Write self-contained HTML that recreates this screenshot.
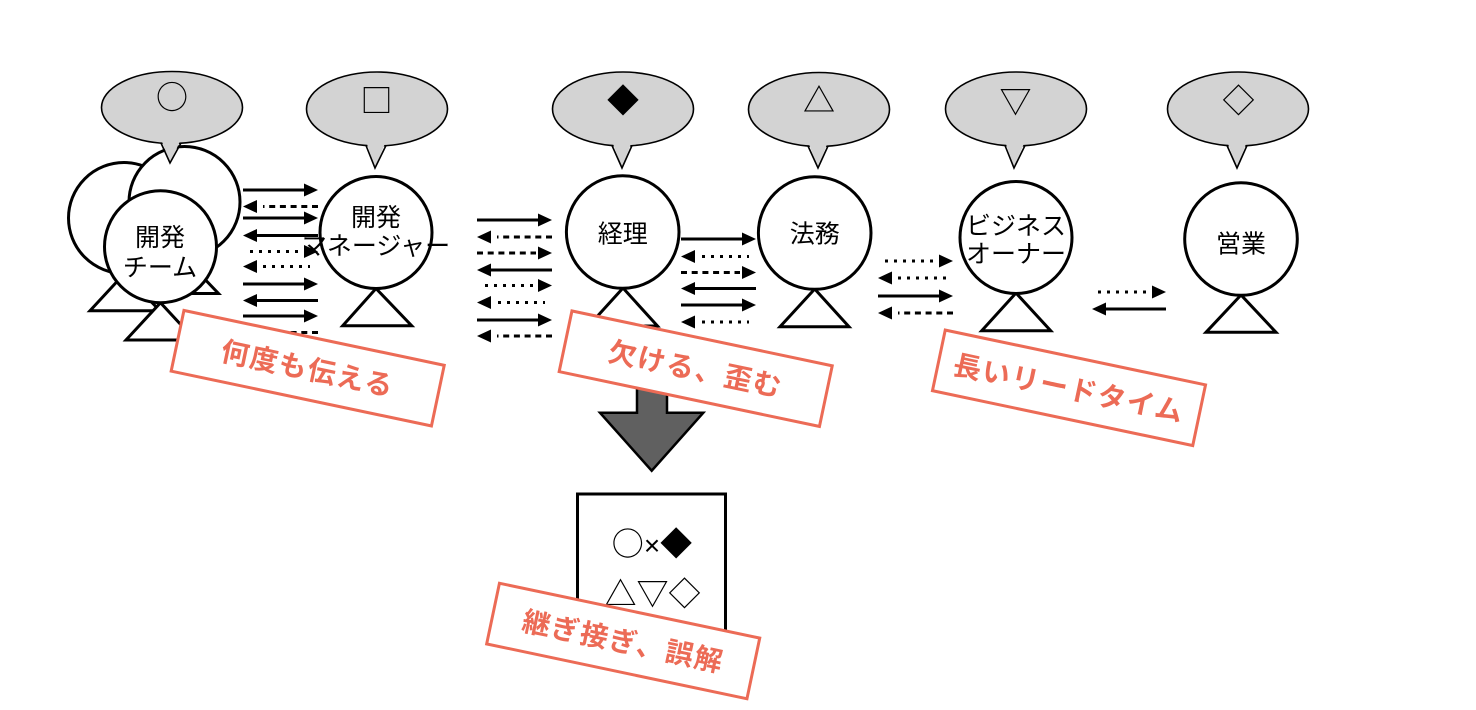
<!DOCTYPE html>
<html><head><meta charset="utf-8">
<style>
html,body{margin:0;padding:0;background:#fff;}
svg{display:block;}
.jp{font-family:"Liberation Sans","Noto Sans CJK JP",sans-serif;}
.sym{font-family:"Noto Sans CJK JP","Liberation Sans",sans-serif;}
</style></head>
<body>
<svg width="1476" height="710" viewBox="0 0 1476 710" xmlns="http://www.w3.org/2000/svg">
<rect width="1476" height="710" fill="#fff"/>

<!-- ARROWS -->
<g stroke="#000" stroke-width="3" fill="none">
  <!-- group 1 x 243-318 -->
  <line x1="243" y1="190" x2="306" y2="190"/>
  <line x1="318" y1="206.5" x2="263" y2="206.5" stroke-dasharray="6 4.7"/>
  <line x1="243" y1="218" x2="306" y2="218"/>
  <line x1="255" y1="235.5" x2="318" y2="235.5"/>
  <line x1="250" y1="251.5" x2="304" y2="251.5" stroke-dasharray="3 6"/>
  <line x1="263" y1="266.5" x2="310" y2="266.5" stroke-dasharray="3 6"/>
  <line x1="243" y1="284" x2="306" y2="284"/>
  <line x1="255" y1="300.5" x2="318" y2="300.5"/>
  <line x1="243" y1="316" x2="306" y2="316"/>
  <line x1="318" y1="332.5" x2="263" y2="332.5" stroke-dasharray="6 4.7"/>
  <!-- group 2 x 477-552 -->
  <line x1="477" y1="220" x2="540" y2="220"/>
  <line x1="552" y1="237" x2="497" y2="237" stroke-dasharray="6 4.7"/>
  <line x1="477" y1="253" x2="536" y2="253" stroke-dasharray="6 4.7"/>
  <line x1="489" y1="270" x2="552" y2="270"/>
  <line x1="485" y1="285.5" x2="536" y2="285.5" stroke-dasharray="3 6"/>
  <line x1="498" y1="302.5" x2="545" y2="302.5" stroke-dasharray="3 6"/>
  <line x1="477" y1="320" x2="540" y2="320"/>
  <line x1="552" y1="336" x2="497" y2="336" stroke-dasharray="6 4.7"/>
  <!-- group 3 x 681-756 -->
  <line x1="681" y1="239" x2="744" y2="239"/>
  <line x1="702" y1="256.5" x2="749" y2="256.5" stroke-dasharray="3 6"/>
  <line x1="681" y1="272.5" x2="740" y2="272.5" stroke-dasharray="6 4.7"/>
  <line x1="693" y1="288.5" x2="756" y2="288.5"/>
  <line x1="681" y1="305" x2="744" y2="305"/>
  <line x1="702" y1="322" x2="749" y2="322" stroke-dasharray="3 6"/>
  <!-- group 4 x 878-953 -->
  <line x1="885" y1="261" x2="937" y2="261" stroke-dasharray="3 6"/>
  <line x1="898" y1="278" x2="946" y2="278" stroke-dasharray="3 6"/>
  <line x1="878" y1="296" x2="941" y2="296"/>
  <line x1="953" y1="313" x2="898" y2="313" stroke-dasharray="6 4.7"/>
  <!-- group 5 x 1092-1166 -->
  <line x1="1098" y1="292" x2="1150" y2="292" stroke-dasharray="3 6"/>
  <line x1="1104" y1="309" x2="1166" y2="309"/>
</g>
<g fill="#000">
  <polygon points="304,183.5 318,190 304,196.5"/>
  <polygon points="257,200 243,206.5 257,213"/>
  <polygon points="304,211.5 318,218 304,224.5"/>
  <polygon points="257,229 243,235.5 257,242"/>
  <polygon points="304,245 318,251.5 304,258"/>
  <polygon points="257,260 243,266.5 257,273"/>
  <polygon points="304,277.5 318,284 304,290.5"/>
  <polygon points="257,294 243,300.5 257,307"/>
  <polygon points="304,309.5 318,316 304,322.5"/>
  <polygon points="257,326 243,332.5 257,339"/>

  <polygon points="538,213.5 552,220 538,226.5"/>
  <polygon points="491,230.5 477,237 491,243.5"/>
  <polygon points="538,246.5 552,253 538,259.5"/>
  <polygon points="491,263.5 477,270 491,276.5"/>
  <polygon points="538,279 552,285.5 538,292"/>
  <polygon points="491,296 477,302.5 491,309"/>
  <polygon points="538,313.5 552,320 538,326.5"/>
  <polygon points="491,329.5 477,336 491,342.5"/>

  <polygon points="742,232.5 756,239 742,245.5"/>
  <polygon points="695,250 681,256.5 695,263"/>
  <polygon points="742,266 756,272.5 742,279"/>
  <polygon points="695,282 681,288.5 695,295"/>
  <polygon points="742,298.5 756,305 742,311.5"/>
  <polygon points="695,315.5 681,322 695,328.5"/>

  <polygon points="939,254.5 953,261 939,267.5"/>
  <polygon points="892,271.5 878,278 892,284.5"/>
  <polygon points="939,289.5 953,296 939,302.5"/>
  <polygon points="892,306.5 878,313 892,319.5"/>

  <polygon points="1152,285.5 1166,292 1152,298.5"/>
  <polygon points="1106,302.5 1092,309 1106,315.5"/>
</g>

<!-- PERSONS -->
<g stroke="#000" stroke-width="3" fill="#fff">
  <polygon points="124,274 90,310.7 160,310.7"/>
  <circle cx="124" cy="218" r="55.5"/>
  <polygon points="184.5,258 150,293.5 218.5,293.5"/>
  <circle cx="184.5" cy="202" r="55.5"/>
  <polygon points="160.5,302.7 126,340 195,340"/>
  <circle cx="160.5" cy="246.7" r="56"/>
  <polygon points="376,288.5 342.7,325.7 411.7,325.7"/>
  <circle cx="376" cy="232.5" r="56"/>
  <polygon points="623,288 588.5,326 657.5,326"/>
  <circle cx="622.7" cy="232" r="56.3"/>
  <polygon points="814.7,289 780,326.7 849,326.7"/>
  <circle cx="814.7" cy="233" r="56.3"/>
  <polygon points="1016,293 981.7,330.7 1050.7,330.7"/>
  <circle cx="1016" cy="237.5" r="56"/>
  <polygon points="1241,295 1206,332.3 1276,332.3"/>
  <circle cx="1241" cy="239" r="56.3"/>
</g>

<!-- names -->
<g class="jp" font-size="25" fill="#000" text-anchor="middle">
  <text x="160" y="246">開発</text>
  <text x="160" y="276">チーム</text>
  <text x="376" y="226">開発</text>
  <text x="376" y="254.3">マネージャー</text>
  <text x="622.7" y="242.6">経理</text>
  <text x="814.7" y="242.3">法務</text>
  <text x="1016" y="234.3">ビジネス</text>
  <text x="1016" y="262.6">オーナー</text>
  <text x="1241" y="252.6">営業</text>
</g>

<!-- BUBBLES -->
<g stroke="#000" stroke-width="1.6" fill="#d3d3d3">
  <ellipse cx="172" cy="107.5" rx="70.5" ry="36"/>
  <ellipse cx="377" cy="109" rx="70.5" ry="37"/>
  <ellipse cx="623" cy="109" rx="70.5" ry="37"/>
  <ellipse cx="819" cy="109.5" rx="70.5" ry="37"/>
  <ellipse cx="1016" cy="109" rx="70.5" ry="37"/>
  <ellipse cx="1238" cy="109" rx="70.5" ry="37"/>
</g>
<g fill="#d3d3d3" stroke="none">
  <polygon points="161,139 170,163 181,139"/>
  <polygon points="366,141 375,168 386,141"/>
  <polygon points="612,141 622,168 632,141"/>
  <polygon points="808,141.5 818,168 828,141.5"/>
  <polygon points="1005,141 1014,168 1025,141"/>
  <polygon points="1227,141 1237,168 1247,141"/>
</g>
<g fill="none" stroke="#000" stroke-width="1.6" stroke-linejoin="miter">
  <polyline points="161,143 170,163 181,143"/>
  <polyline points="366,145.5 375,168 386,145.5"/>
  <polyline points="612,145.5 622,168 632,145.5"/>
  <polyline points="808,146 818,168 828,146"/>
  <polyline points="1005,145.5 1014,168 1025,145.5"/>
  <polyline points="1227,145.5 1237,168 1247,145.5"/>
</g>
<g class="sym" font-size="32" fill="#000" text-anchor="middle">
  <text x="172" y="108.7">○</text>
  <text x="376.5" y="112">□</text>
  <text x="623" y="112">◆</text>
  <text x="819" y="111.5">△</text>
  <text x="1015.5" y="113">▽</text>
  <text x="1238.5" y="112">◇</text>
</g>

<!-- big down arrow -->
<polygon points="637,350 667,350 667,412.7 703.3,412.7 651.7,470.7 600,412.7 637,412.7" fill="#606060" stroke="#000" stroke-width="2.5" stroke-linejoin="miter"/>

<!-- result box -->
<rect x="577.5" y="494" width="148" height="166" fill="#fff" stroke="#000" stroke-width="3"/>
<g class="sym" font-size="32" fill="#000" text-anchor="middle">
  <text x="652" y="555">○<tspan font-family="Liberation Sans, sans-serif" font-size="28">×</tspan>◆</text>
  <text x="652.5" y="605">△▽◇</text>
</g>

<!-- LABELS -->
<g class="jp" font-size="28" font-weight="bold" fill="#ec6b56" text-anchor="middle" letter-spacing="1.5">
  <g transform="translate(307.7,368.2) rotate(11.9)">
    <rect x="-133" y="-31" width="266" height="62" fill="#fff" stroke="#ec6b56" stroke-width="3"/>
    <text x="0" y="10.5">何度も伝える</text>
  </g>
  <g transform="translate(695.7,368.7) rotate(11.9)">
    <rect x="-133" y="-31" width="266" height="62" fill="#fff" stroke="#ec6b56" stroke-width="3"/>
    <text x="0" y="10.5">欠ける、歪む</text>
  </g>
  <g transform="translate(1069,387.8) rotate(11.9)">
    <rect x="-133" y="-31" width="266" height="62" fill="#fff" stroke="#ec6b56" stroke-width="3"/>
    <text x="0" y="10.5">長いリードタイム</text>
  </g>
  <g transform="translate(623.2,641) rotate(11.9)">
    <rect x="-133" y="-31" width="266" height="62" fill="#fff" stroke="#ec6b56" stroke-width="3"/>
    <text x="0" y="10.5">継ぎ接ぎ、誤解</text>
  </g>
</g>
</svg>
</body></html>
